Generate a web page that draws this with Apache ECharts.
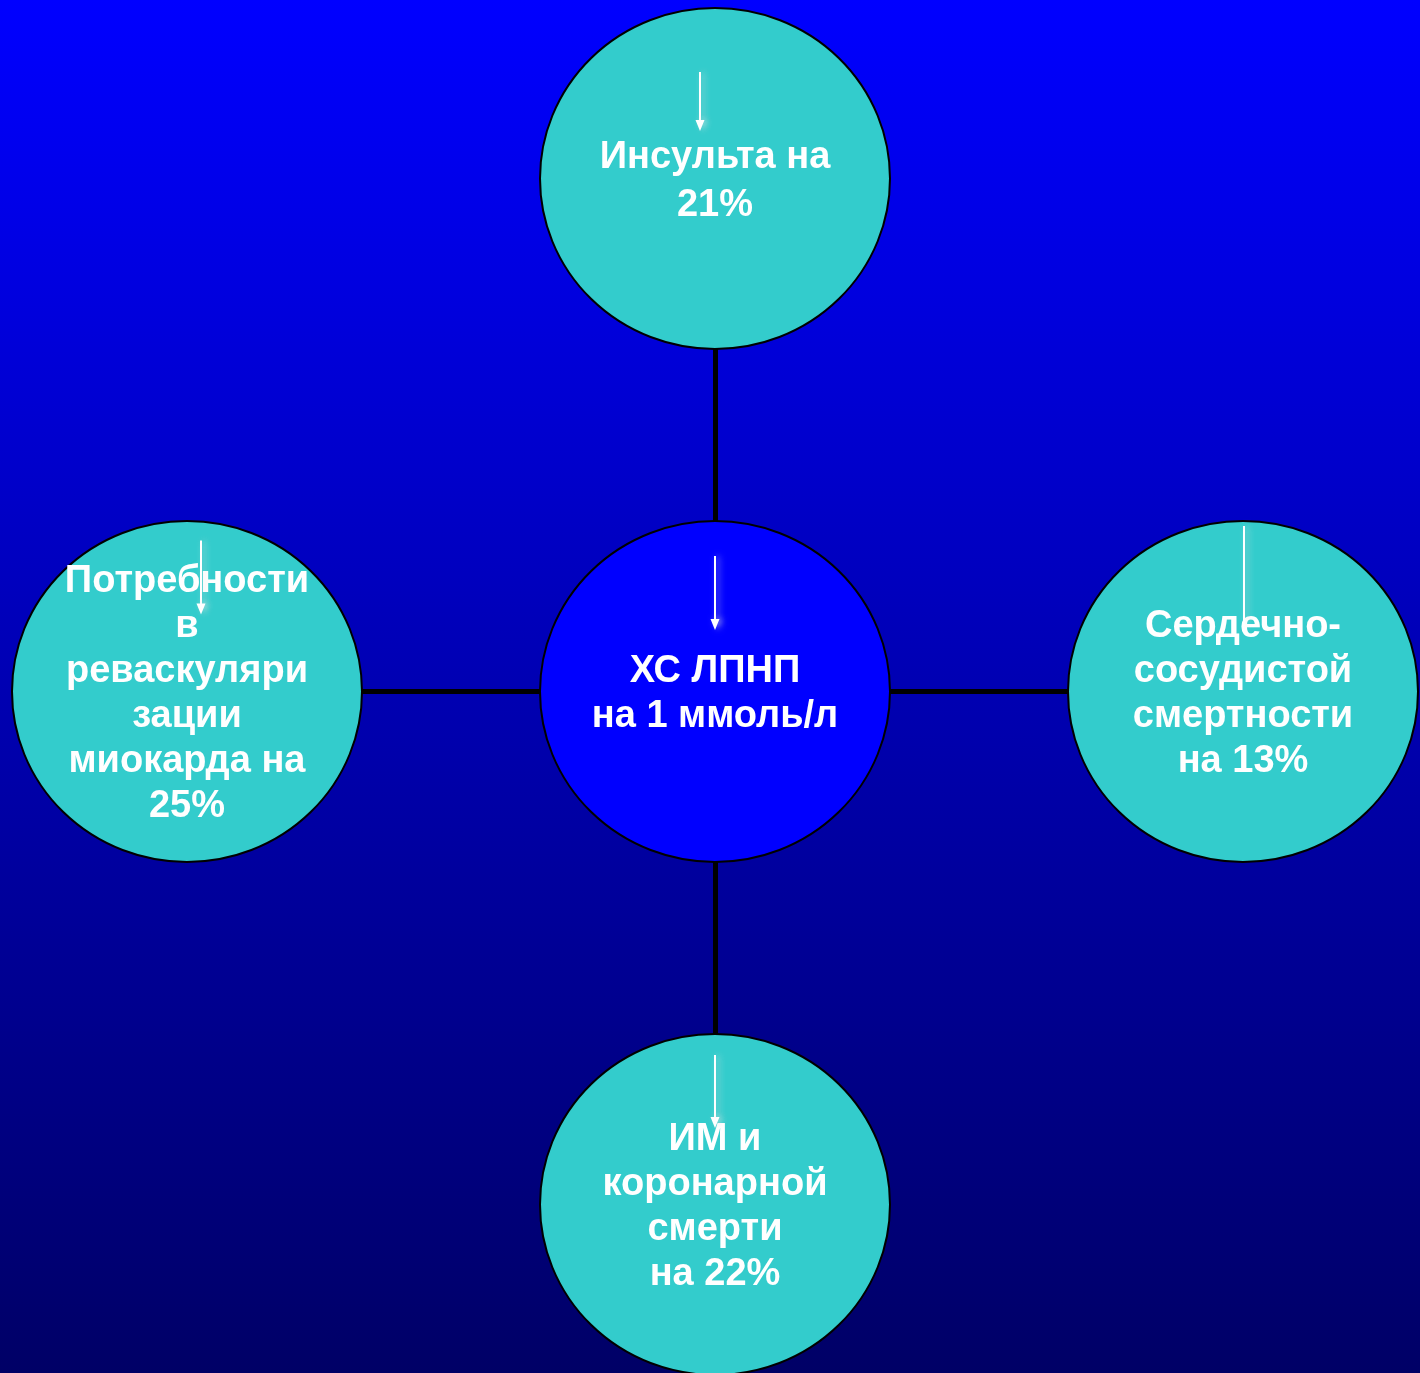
<!DOCTYPE html>
<html>
<head>
<meta charset="utf-8">
<script src="https://cdn.jsdelivr.net/npm/echarts@6/dist/echarts.min.js"></script>
<style>
  html, body { margin: 0; padding: 0; }
  #chart { width: 1420px; height: 1373px; }
</style>
</head>
<body>
<div id="chart"></div>
<script>
// Central factor and the outcomes it reduces (clockwise from the top)
const hubLabel = 'ХС ЛПНП\nна 1 ммоль/л';
const outcomeLabels = [
  'Инсульта на\n21%',
  'Сердечно-\nсосудистой\nсмертности\nна 13%',
  'ИМ и\nкоронарной\nсмерти\nна 22%',
  'Потребности\nв\nреваскуляри\nзации\nмиокарда на\n25%'
];
// Spoke directions for the outcomes: top, right, bottom, left
const outcomeDirections = [[0, -1], [1, 0], [0, 1], [-1, 0]];

// Layout (pixel-domain axes)
const W = 1420, H = 1373;
const hubPos = [715, 691.5];
const spoke = [528, 513];
const nodeSize = [350, 341];
const ellipse = 'path://M0,50A50,50,0,1,1,100,50A50,50,0,1,1,0,50Z';

// Down-arrow decorations: [node index (0 = hub), dx, top dy, tip dy, has head]
const arrowLayout = [
  [0, 0, -135.5, -61.5, true],
  [1, -15, -106.5, -47.5, true],
  [2, 1, -165.5, -65.5, false],
  [3, 0, -149.5, -76.5, true],
  [4, 14, -151, -77, true]
];

const nodes = [{
  name: hubLabel,
  value: hubPos.slice(),
  itemStyle: { color: '#0000FF' }
}].concat(outcomeLabels.map((label, i) => ({
  name: label,
  value: [hubPos[0] + outcomeDirections[i][0] * spoke[0],
          hubPos[1] + outcomeDirections[i][1] * spoke[1]],
  itemStyle: { color: '#33CCCC' },
  label: i === 0 ? { lineHeight: 48 } : undefined
})));
const links = outcomeLabels.map((_, i) => ({ source: 0, target: i + 1 }));

const chart = echarts.init(document.getElementById('chart'), null, { renderer: 'canvas' });

chart.setOption({
  animation: false,
  backgroundColor: {
    type: 'linear', x: 0, y: 0, x2: 0, y2: 1,
    colorStops: [{ offset: 0, color: '#0000FF' }, { offset: 1, color: '#000066' }]
  },
  grid: { left: 0, right: 0, top: 0, bottom: 0 },
  xAxis: { type: 'value', min: 0, max: W, show: false },
  yAxis: { type: 'value', min: 0, max: H, inverse: true, show: false },
  series: [{
    type: 'graph',
    coordinateSystem: 'cartesian2d',
    layout: 'none',
    symbol: ellipse,
    symbolSize: nodeSize,
    data: nodes,
    links: links,
    silent: true,
    itemStyle: { borderColor: '#000000', borderWidth: 2 },
    lineStyle: { color: '#000000', width: 5, opacity: 1, curveness: 0 },
    label: {
      show: true,
      position: 'inside',
      offset: [0, 3],
      formatter: '{b}',
      color: '#FFFFFF',
      fontFamily: '"Liberation Sans", Arial, sans-serif',
      fontWeight: 'bold',
      fontSize: 38,
      lineHeight: 45,
      align: 'center'
    },
    emphasis: { disabled: true }
  }]
});

// Thin white arrows pointing down inside each circle
const arrowGraphics = [];
arrowLayout.forEach(([idx, dx, dy0, dy1, head]) => {
  const c = chart.convertToPixel({ gridIndex: 0 }, nodes[idx].value);
  const x = c[0] + dx, y0 = c[1] + dy0, y1 = c[1] + dy1;
  const glow = { shadowBlur: 6, shadowColor: 'rgba(230,230,230,0.6)', shadowOffsetX: 3 };
  arrowGraphics.push({
    type: 'line', silent: true, z: 10,
    shape: { x1: x, y1: y0, x2: x, y2: head ? y1 - 8 : y1 },
    style: Object.assign({ stroke: '#FFFFFF', lineWidth: 2 }, glow)
  });
  if (head) {
    arrowGraphics.push({
      type: 'polygon', silent: true, z: 10,
      shape: { points: [[x - 4.5, y1 - 11], [x + 4.5, y1 - 11], [x, y1]] },
      style: Object.assign({ fill: '#FFFFFF' }, glow)
    });
  }
});
chart.setOption({ graphic: arrowGraphics });
</script>
</body>
</html>
